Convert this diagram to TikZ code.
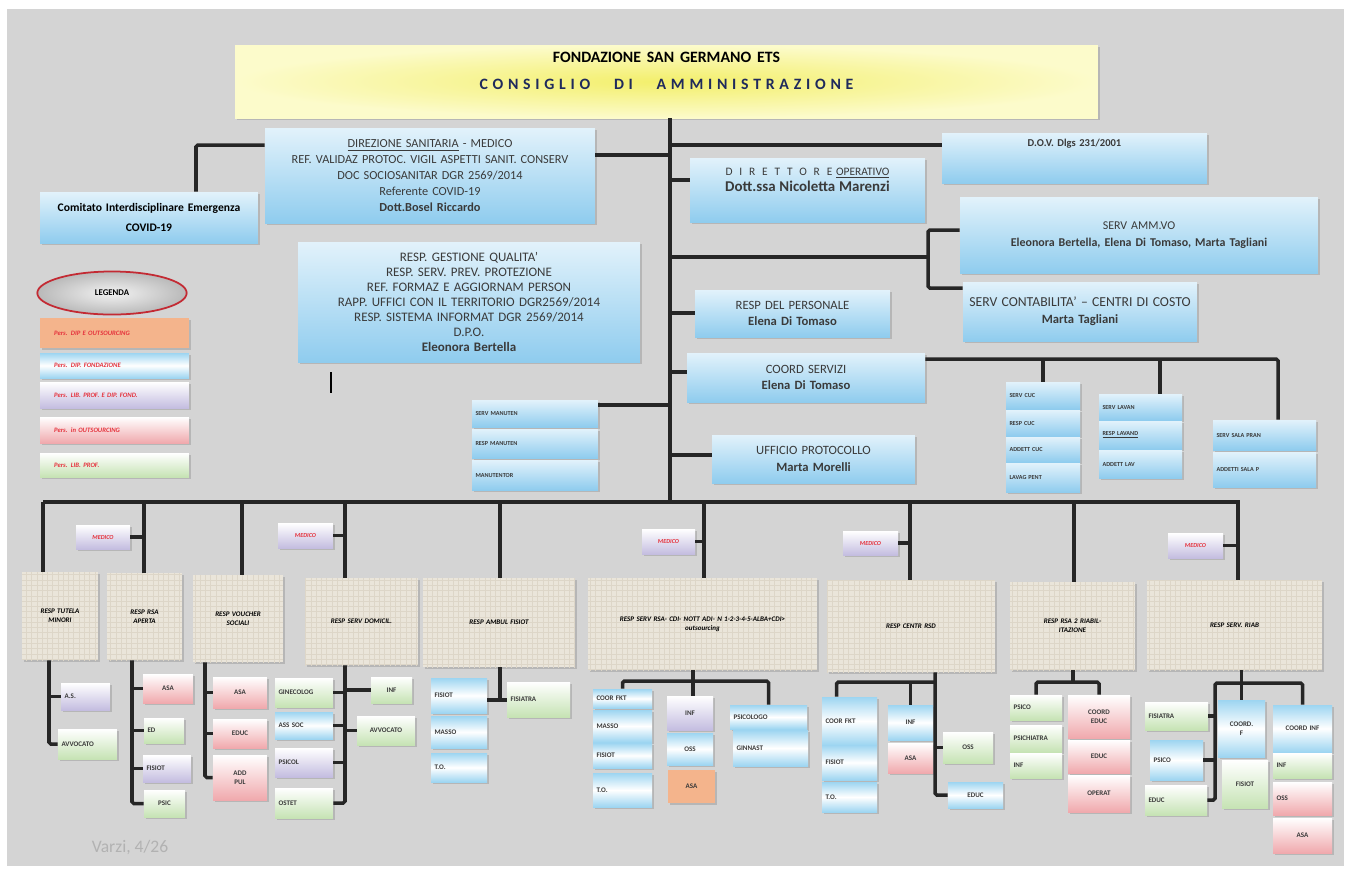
\documentclass[tikz,border=0pt]{standalone}
\usepackage{fontspec}
\setmainfont{Carlito}
\usetikzlibrary{shadows,patterns,shapes.geometric}

\definecolor{paper}{HTML}{D4D4D4}
\definecolor{ink}{HTML}{3A3A3A}
\definecolor{navy}{HTML}{1F2A5C}
\definecolor{skyhi}{HTML}{E2F2FB}
\definecolor{skylo}{HTML}{8FCCEE}
\definecolor{azure}{HTML}{9DD5F1}
\definecolor{leaf}{HTML}{C6E3B4}
\definecolor{rose}{HTML}{F0A9AD}
\definecolor{lilac}{HTML}{C4BDE0}
\definecolor{peach}{HTML}{F4B48C}
\definecolor{lemon}{HTML}{F3EF6B}
\definecolor{lemonpale}{HTML}{FCFBCB}
\definecolor{linen}{HTML}{EAE5DA}
\definecolor{weave}{HTML}{DDD6C8}
\definecolor{alert}{HTML}{E5323C}

\begin{document}
\begin{tikzpicture}[x=0.02cm, y=-0.02cm,
    wire/.style={line width=2pt, draw=black!85, rounded corners=1pt},
    box/.style={inner xsep=2pt, inner ysep=0pt, align=center, text=ink,
        drop shadow={shadow xshift=0.9pt, shadow yshift=-0.9pt, opacity=0.35}},
    head/.style={box, inner color=lemon, outer color=lemonpale, text=black},
    mid/.style={box, top color=skyhi, bottom color=skylo, font=\fontsize{7.2}{9.5}\selectfont},
    stk/.style={box, top color=skyhi, bottom color=skylo, align=left, font=\fontsize{3.5}{4}\selectfont\bfseries},
    leg/.style={box, align=left, text=alert, font=\fontsize{3.8}{4.5}\selectfont\bfseries\itshape},
    doc/.style={box, top color=white, bottom color=lilac, text=alert, font=\fontsize{3.5}{4}\selectfont\bfseries\itshape},
    unit/.style={box, fill=linen, postaction={pattern=grid, pattern color=weave}, text=black, font=\fontsize{4}{5}\selectfont\bfseries\itshape},
    kid/.style={box, font=\fontsize{4}{5}\selectfont\bfseries},
    kidl/.style={kid, align=left},
    bb/.style={top color=azure, bottom color=azure, middle color=white},
    gb/.style={top color=white, bottom color=leaf},
    pb/.style={top color=white, bottom color=rose},
    vb/.style={top color=white, bottom color=lilac},
    ob/.style={fill=peach},
]

    \newcommand{\orgbox}[7]{
        \pgfmathsetmacro\bw{(#4-#2)*0.5690551-4}
        \pgfmathsetmacro\bh{(#5-#3)*0.5690551}
        \node[#6, text width=\bw pt, minimum height=\bh pt] (#1) at ({(#2+#4)/2},{(#3+#5)/2}) {#7};
    }

    \useasboundingbox (0,0) rectangle (1349,870);
    \fill[white] (0,0) rectangle (1349,870);
    \fill[paper] (7,9) rectangle (1344,866);

    \orgbox{title}{235}{45}{1098}{118}{head}{\fontsize{9}{10}\selectfont\bfseries FONDAZIONE SAN GERMANO ETS\\[5pt]{\color{navy}\addfontfeature{LetterSpace=30}CONSIGLIO\hspace{1.5em}DI\hspace{1.5em}AMMINISTRAZIONE}\\~}

    \orgbox{dirsan}{265}{128}{595}{223}{mid, font=\fontsize{7}{9}\selectfont}{\underline{DIREZIONE SANITARIA} - MEDICO\\REF. VALIDAZ PROTOC. VIGIL ASPETTI SANIT. CONSERV\\DOC SOCIOSANITAR DGR 2569/2014\\Referente COVID-19\\\textbf{Dott.Bosel Riccardo}}
    \orgbox{comitato}{40}{192}{258}{243}{mid, font=\fontsize{6.6}{11}\selectfont\bfseries, text=black}{Comitato Interdisciplinare Emergenza\\COVID-19}
    \orgbox{qualita}{298}{242}{640}{362}{mid, font=\fontsize{7.4}{8.6}\selectfont}{RESP. GESTIONE QUALITA'\\RESP. SERV. PREV. PROTEZIONE\\REF. FORMAZ E AGGIORNAM PERSON\\RAPP. UFFICI CON IL TERRITORIO DGR2569/2014\\RESP. SISTEMA INFORMAT DGR 2569/2014\\D.P.O.\\\textbf{Eleonora Bertella}}
    \orgbox{dov}{942}{133}{1207}{183}{mid, font=\fontsize{6}{9}\selectfont}{\textbf{D.O.V. Dlgs 231/2001}\\[8pt]~}
    \orgbox{dirop}{690}{158}{925}{222}{mid, font=\fontsize{6.5}{9}\selectfont}{{\addfontfeature{LetterSpace=60}DIRETTORE} \underline{OPERATIVO}\\{\fontsize{8.5}{9}\selectfont\bfseries Dott.ssa Nicoletta Marenzi}\\[3pt]~}
    \orgbox{amm}{960}{197}{1318}{273}{mid, font=\fontsize{6.8}{9.5}\selectfont}{SERV AMM.VO\\\textbf{Eleonora Bertella, Elena Di Tomaso, Marta Tagliani}}
    \orgbox{contab}{963}{282}{1197}{341}{mid}{{\fontsize{7.8}{9.5}\selectfont\mbox{SERV CONTABILITA' -- CENTRI DI COSTO}}\\\textbf{Marta Tagliani}}
    \orgbox{pers}{695}{290}{890}{337}{mid}{RESP DEL PERSONALE\\\textbf{Elena Di Tomaso}}
    \orgbox{coord}{687}{353}{925}{402}{mid}{COORD SERVIZI\\\textbf{Elena Di Tomaso}}
    \orgbox{prot}{712}{435}{915}{483}{mid}{UFFICIO PROTOCOLLO\\\textbf{Marta Morelli}}

    \orgbox{man1}{472}{400}{598}{427}{stk}{SERV MANUTEN}
    \orgbox{man2}{472}{429}{598}{458}{stk}{RESP MANUTEN}
    \orgbox{man3}{472}{460}{598}{490}{stk}{MANUTENTOR}
    \orgbox{cuc1}{1006}{382}{1080}{409}{stk}{SERV CUC}
    \orgbox{cuc2}{1006}{410}{1080}{436}{stk}{RESP CUC}
    \orgbox{cuc3}{1006}{437}{1080}{462}{stk}{ADDETT CUC}
    \orgbox{cuc4}{1006}{463}{1080}{492}{stk}{LAVAG PENT}
    \orgbox{lav1}{1099}{394}{1182}{420}{stk}{SERV LAVAN}
    \orgbox{lav2}{1099}{421}{1182}{449}{stk}{\underline{RESP LAVAND}}
    \orgbox{lav3}{1099}{450}{1182}{478}{stk}{ADDETT LAV}
    \orgbox{sala1}{1213}{420}{1316}{450}{stk}{SERV SALA PRAN}
    \orgbox{sala2}{1213}{452}{1316}{487}{stk}{ADDETTI SALA P}

    \node[ellipse, inner color=gray!10, outer color=gray!55, draw=alert!85!black, line width=1pt,
        minimum width=85pt, minimum height=24.5pt, inner sep=0pt,
        font=\fontsize{5}{6}\selectfont\bfseries] (legenda) at (112,293) {LEGENDA};
    \orgbox{leg1}{40}{318}{189}{348}{leg, ob}{\hspace{6pt}Pers. DIP E OUTSOURCING}
    \orgbox{leg2}{40}{353}{189}{378}{leg, bb}{\hspace{6pt}Pers. DIP. FONDAZIONE}
    \orgbox{leg3}{40}{382}{189}{408}{leg, vb}{\hspace{6pt}Pers. LIB. PROF. E DIP. FOND.}
    \orgbox{leg4}{40}{417}{189}{443}{leg, pb}{\hspace{6pt}Pers. in OUTSOURCING}
    \orgbox{leg5}{40}{453}{189}{477}{leg, gb}{\hspace{6pt}Pers. LIB. PROF.}

    \draw[line width=1pt] (331,372) -- (331,393);

    \orgbox{m1}{76}{525}{130}{549}{doc}{MEDICO}
    \orgbox{m2}{278}{523}{333}{548}{doc}{MEDICO}
    \orgbox{m3}{642}{529}{695}{554}{doc}{MEDICO}
    \orgbox{m4}{843}{531}{898}{555}{doc}{MEDICO}
    \orgbox{m5}{1168}{533}{1223}{558}{doc}{MEDICO}

    \orgbox{r1}{22}{572}{98}{660}{unit}{RESP TUTELA\\MINORI}
    \orgbox{r2}{107}{573}{182}{660}{unit}{RESP RSA\\APERTA}
    \orgbox{r3}{193}{575}{283}{662}{unit}{RESP VOUCHER\\SOCIALI}
    \orgbox{r4}{305}{578}{418}{665}{unit}{RESP SERV DOMICIL.}
    \orgbox{r5}{423}{578}{575}{667}{unit}{RESP AMBUL FISIOT}
    \orgbox{r6}{588}{578}{817}{670}{unit}{RESP SERV RSA- CDI- NOTT ADI- N 1-2-3-4-5-ALBA+CDI>\\outsourcing}
    \orgbox{r7}{827}{580}{995}{672}{unit}{RESP CENTR RSD}
    \orgbox{r8}{1010}{582}{1135}{670}{unit}{RESP RSA 2 RIABIL-\\ITAZIONE}
    \orgbox{r9}{1147}{580}{1322}{670}{unit}{RESP SERV. RIAB}

    \orgbox{c1a}{61}{683}{110}{710}{kidl, vb}{A.S.}
    \orgbox{c1b}{58}{729}{117}{759}{kidl, gb}{AVVOCATO}
    \orgbox{c2a}{143}{674}{193}{703}{kid, pb}{ASA}
    \orgbox{c2b}{144}{718}{184}{743}{kidl, gb}{ED}
    \orgbox{c2c}{143}{755}{191}{782}{kidl, vb}{FISIOT}
    \orgbox{c2d}{144}{790}{185}{817}{kid, gb}{PSIC}
    \orgbox{c3a}{213}{677}{267}{708}{kid, pb}{ASA}
    \orgbox{c3b}{213}{719}{267}{748}{kid, pb}{EDUC}
    \orgbox{c3c}{213}{755}{267}{800}{kid, pb}{ADD\\PUL}
    \orgbox{c4a}{275}{678}{333}{707}{kidl, gb}{GINECOLOG}
    \orgbox{c4b}{275}{712}{333}{739}{kidl, bb}{ASS SOC}
    \orgbox{c4c}{275}{748}{333}{777}{kidl, vb}{PSICOL}
    \orgbox{c4d}{275}{788}{333}{818}{kidl, gb}{OSTET}
    \orgbox{c4e}{371}{677}{412}{703}{kid, gb}{INF}
    \orgbox{c4f}{357}{716}{415}{745}{kid, gb}{AVVOCATO}
    \orgbox{c5a}{431}{678}{487}{713}{kidl, bb}{FISIOT}
    \orgbox{c5b}{431}{716}{487}{748}{kidl, bb}{MASSO}
    \orgbox{c5c}{431}{753}{487}{782}{kidl, bb}{T.O.}
    \orgbox{c5d}{507}{682}{570}{717}{kidl, gb}{FISIATRA}
    \orgbox{c6a}{593}{689}{652}{708}{kidl, bb}{COOR FKT}
    \orgbox{c6b}{593}{710}{652}{742}{kidl, bb}{MASSO}
    \orgbox{c6c}{593}{743}{652}{768}{kidl, bb}{FISIOT}
    \orgbox{c6d}{593}{773}{652}{807}{kidl, bb}{T.O.}
    \orgbox{c6e}{667}{696}{713}{730}{kid, vb}{INF}
    \orgbox{c6f}{667}{733}{713}{765}{kid, bb}{OSS}
    \orgbox{c6g}{668}{770}{715}{803}{kid, ob}{ASA}
    \orgbox{c6h}{730}{705}{807}{729}{kidl, bb}{PSICOLOGO}
    \orgbox{c6i}{733}{730}{808}{766}{kidl, bb}{GINNAST}
    \orgbox{c7a}{822}{697}{877}{745}{kidl, bb}{COOR FKT}
    \orgbox{c7b}{822}{745}{877}{780}{kidl, bb}{FISIOT}
    \orgbox{c7c}{822}{782}{877}{812}{kidl, bb}{T.O.}
    \orgbox{c7d}{888}{705}{933}{740}{kid, bb}{INF}
    \orgbox{c7e}{888}{743}{933}{773}{kid, pb}{ASA}
    \orgbox{c7f}{943}{732}{993}{763}{kid, gb}{OSS}
    \orgbox{c7g}{948}{782}{1003}{808}{kid, bb}{EDUC}
    \orgbox{c8a}{1010}{695}{1062}{720}{kidl, gb}{PSICO}
    \orgbox{c8b}{1010}{725}{1062}{752}{kidl, gb}{PSICHIATRA}
    \orgbox{c8c}{1010}{753}{1062}{778}{kidl, gb}{INF}
    \orgbox{c8d}{1068}{695}{1130}{738}{kid, pb}{COORD\\EDUC}
    \orgbox{c8e}{1068}{740}{1130}{773}{kid, pb}{EDUC}
    \orgbox{c8f}{1068}{775}{1130}{812}{kid, pb}{OPERAT}
    \orgbox{c9a}{1145}{702}{1208}{730}{kidl, gb}{FISIATRA}
    \orgbox{c9b}{1150}{740}{1203}{780}{kidl, bb}{PSICO}
    \orgbox{c9c}{1145}{785}{1207}{815}{kidl, gb}{EDUC}
    \orgbox{c9d}{1218}{700}{1265}{757}{kid, bb}{COORD.\\F}
    \orgbox{c9e}{1222}{760}{1268}{808}{kid, gb}{FISIOT}
    \orgbox{c9f}{1273}{705}{1332}{752}{kid, bb}{COORD INF}
    \orgbox{c9g}{1273}{753}{1332}{778}{kidl, gb}{INF}
    \orgbox{c9h}{1273}{782}{1332}{815}{kidl, pb}{OSS}
    \orgbox{c9i}{1273}{818}{1332}{853}{kid, pb}{ASA}

    \node[text=gray!60, font=\fontsize{10}{11}\selectfont] (stamp) at (130,848) {Varzi, 4/26};

    \coordinate (bus) at (670,502);
    \draw[wire] (title.south -| bus) -- (bus);
    \foreach \n/\a/\y in {dirsan/east/155, man1/east/405, dov/west/145, dirop/west/180, pers/west/313, coord/west/372, prot/west/455}
        \draw[wire] (bus |- 0,\y) -- (\n.\a |- 0,\y);
    \draw[wire] (dirsan.west |- 0,145) -| (196,0 |- comitato.north);
    \coordinate (sv) at (928,257);
    \draw[wire] (bus |- sv) -- (sv);
    \draw[wire] (amm.west |- 0,230) -| (sv |- 0,288) -- (contab.west |- 0,288);
    \draw[wire] (coord.east |- 0,359) -| ([xshift=0.27cm]sala1.north);
    \draw[wire] (cuc1.north) -- (cuc1.north |- 0,359);
    \draw[wire] ([xshift=0.39cm]lav1.north) -- ([xshift=0.39cm]lav1.north |- 0,359);

    \coordinate (busl) at (43,502);
    \coordinate (busr) at (1240,502);
    \draw[wire] (busl) -- (busr);
    \foreach \n/\x in {r1/43, r2/144, r3/242, r4/345, r5/500, r6/704, r7/910, r8/1074, r9/1238}
        \draw[wire] (\x,502) -- (\x,0 |- \n.north);
    \foreach \m/\x in {m1/144, m2/345, m3/704, m4/910, m5/1238}
        \draw[wire] (\m.east) -- (\m.east -| \x,0);

    \draw[wire] (49,0 |- r1.south) |- (c1b.west);
    \draw[wire] (49,0 |- c1a.west) -- (c1a.west);
    \draw[wire] (132,0 |- r2.south) |- (c2d.west);
    \foreach \c in {c2a,c2b,c2c}
        \draw[wire] (132,0 |- \c.west) -- (\c.west);
    \draw[wire] (205,0 |- r3.south) |- (c3c.west);
    \foreach \c in {c3a,c3b}
        \draw[wire] (205,0 |- \c.west) -- (\c.west);
    \draw[wire] (345,0 |- r4.south) |- (c4d.east);
    \foreach \c in {c4a,c4b,c4c}
        \draw[wire] (345,0 |- \c.east) -- (\c.east);
    \foreach \c in {c4e,c4f}
        \draw[wire] (345,0 |- \c.west) -- (\c.west);
    \coordinate (k5) at (500,700);
    \draw[wire] (500,0 |- r5.south) -- (k5);
    \draw[wire] (c5a.east |- k5) -- (c5d.west |- k5);
    \draw[wire] (693,0 |- r6.south) -- (693,0 |- c6e.north);
    \draw[wire] (c6a.north) |- (c6h.north |- 0,681) -- (c6h.north);
    \draw[wire] (935,0 |- r7.south) |- (c7g.west);
    \draw[wire] (935,0 |- c7f.west) -- (c7f.west);
    \draw[wire] ([xshift=-0.26cm]c7a.north) |- (935,682);
    \draw[wire] (c7d.north) -- (c7d.north |- 0,682);
    \draw[wire] (1073,0 |- r8.south) -- (1073,682);
    \draw[wire] (c8a.north) |- (1073,682) -| (c8d.north);
    \draw[wire] (c9d.north |- r9.south) -- (c9d.north);
    \draw[wire] (c9f.north) |- (1215,683) |- (c9c.east);
    \foreach \c in {c9a,c9b}
        \draw[wire] (1215,0 |- \c.east) -- (\c.east);

\end{tikzpicture}
\end{document}
